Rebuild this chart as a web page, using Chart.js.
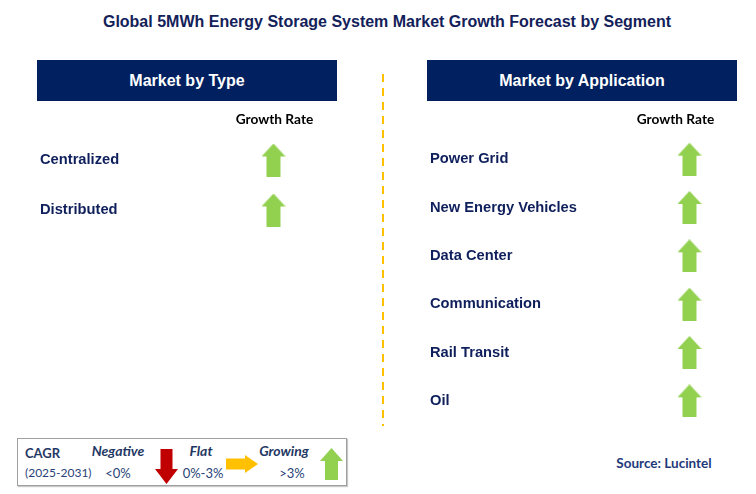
<!DOCTYPE html>
<html>
<head>
<meta charset="utf-8">
<script src="https://cdn.jsdelivr.net/npm/chart.js@4.4.0/dist/chart.umd.min.js"></script>
<style>
  body { margin: 0; width: 756px; height: 494px; background: #fff; position: relative; overflow: hidden; font-family: "Liberation Sans", Arial, sans-serif; }
  .abs { position: absolute; }
  .hdr { background: #002060; color: #fff; font-weight: bold; font-size: 16px; text-align: center; height: 41px; line-height: 41px; top: 60px; }
  .t { position: absolute; white-space: nowrap; transform: translate(-50%, -50%); }
  .tl { position: absolute; white-space: nowrap; transform: translate(0, -50%); }
  #divider { left: 382px; top: 74px; width: 2px; height: 352px; background: repeating-linear-gradient(to bottom, #ffc000 0 8px, transparent 8px 14px); }
  #legendBox { left: 17px; top: 438px; width: 328px; height: 46px; border: 1px solid #a0a0a0; box-shadow: 1px 1px 1px #c8c8c8; }
  .lg { font-family: Lato, "Open Sans", sans-serif; font-size: 13px; color: #2a3f78; }
  .lgb { font-family: Lato, "Open Sans", sans-serif; font-size: 14px; font-weight: bold; font-style: italic; color: #1f3864; }
</style>
</head>
<body>
<div class="t" style="left:387px;top:22px;font-size:16px;font-weight:bold;color:#13215a;">Global 5MWh Energy Storage System Market Growth Forecast by Segment</div>

<div class="abs hdr" style="left:37px;width:300px;">Market by Type</div>
<div class="abs hdr" style="left:427px;width:310px;">Market by Application</div>
<div class="abs" id="divider"></div>

<div class="abs" style="left:40px;top:105px;width:300px;height:130px;"><canvas id="typeChart"></canvas></div>
<div class="abs" style="left:430px;top:105px;width:306px;height:320px;"><canvas id="appChart"></canvas></div>

<div class="abs" id="legendBox"></div>
<div class="tl" style="left:25px;top:453px;font-family:Lato,sans-serif;font-size:13px;font-weight:bold;color:#1f3864;">CAGR</div>
<div class="tl lg" style="left:25px;top:472px;font-size:12px;">(2025-2031)</div>
<div class="t lgb" style="left:118px;top:450px;">Negative</div>
<div class="t lg" style="left:118px;top:473px;">&lt;0%</div>
<div class="t lgb" style="left:201px;top:450px;">Flat</div>
<div class="t lg" style="left:203px;top:473px;">0%-3%</div>
<div class="t lgb" style="left:284px;top:450px;">Growing</div>
<div class="t lg" style="left:292px;top:473px;">&gt;3%</div>

<div class="t" style="left:664px;top:463px;font-family:Lato,sans-serif;font-size:13.5px;font-weight:bold;color:#1e3a7b;">Source: Lucintel</div>

<script>
// segment data
const typeCategories = ['Centralized', 'Distributed'];
const typeGrowth = ['Growing', 'Growing'];
const appCategories = ['Power Grid', 'New Energy Vehicles', 'Data Center', 'Communication', 'Rail Transit', 'Oil'];
const appGrowth = ['Growing', 'Growing', 'Growing', 'Growing', 'Growing', 'Growing'];
const columnLabel = ['Growth Rate'];

const GREEN = '#92d050', RED = '#c00000', YELLOW = '#ffc000';

// block arrow drawn on a small canvas, used as point style
function makeArrow(dir, color, w, h, head, shaft) {
    const c = document.createElement('canvas');
    c.width = w; c.height = h;
    const g = c.getContext('2d');
    g.fillStyle = color;
    g.beginPath();
    let pts;
    if (dir === 'up' || dir === 'down') {
        pts = [[w/2, 0], [w, head], [(w+shaft)/2, head], [(w+shaft)/2, h], [(w-shaft)/2, h], [(w-shaft)/2, head], [0, head]];
        if (dir === 'down') pts = pts.map(p => [p[0], h - p[1]]);
    } else {
        pts = [[w, h/2], [w-head, 0], [w-head, (h-shaft)/2], [0, (h-shaft)/2], [0, (h+shaft)/2], [w-head, (h+shaft)/2], [w-head, h]];
    }
    pts.forEach((p, i) => i ? g.lineTo(p[0], p[1]) : g.moveTo(p[0], p[1]));
    g.closePath();
    g.fill();
    return c;
}

const arrowFor = {
    'Growing': makeArrow('up', GREEN, 24, 33, 13, 14),
    'Flat': makeArrow('right', YELLOW, 32, 18, 13, 11),
    'Negative': makeArrow('down', RED, 23, 34, 15, 12)
};

function placeLegendArrow(w, h, head, shaft, dir, color, left, top) {
    const c = makeArrow(dir, color, w, h, head, shaft);
    c.style.position = 'absolute';
    c.style.left = left + 'px';
    c.style.top = top + 'px';
    document.body.appendChild(c);
}
placeLegendArrow(23, 35, 15, 12, 'down', RED, 155, 449);
placeLegendArrow(32, 18, 13, 11, 'right', YELLOW, 226, 455);
placeLegendArrow(23, 32, 13, 13, 'up', GREEN, 320, 448);

function createSegmentChart(id, categories, growth, axisWidth, headerShift) {
    const ctx = document.getElementById(id).getContext('2d');
    return new Chart(ctx, {
        type: 'scatter',
        data: {
            datasets: [{
                data: categories.map(c => ({ x: columnLabel[0], y: c })),
                pointStyle: growth.map(g => arrowFor[g]),
                pointRadius: 12,
                clip: false
            }]
        },
        options: {
            responsive: true,
            maintainAspectRatio: false,
            animation: false,
            events: [],
            layout: { padding: 0, autoPadding: false },
            plugins: { legend: { display: false }, tooltip: { enabled: false }, title: { display: false } },
            scales: {
                x: {
                    type: 'category', labels: columnLabel, position: 'top', offset: true,
                    grid: { display: false, drawTicks: false }, border: { display: false },
                    ticks: { padding: 7, labelOffset: headerShift, color: '#000', font: { family: 'Lato', size: 13.7, weight: 'bold' } },
                    afterFit: s => { s.height = 30; s.paddingLeft = 0; s.paddingRight = 0; }
                },
                y: {
                    type: 'category', labels: categories, offset: true,
                    grid: { display: false, drawTicks: false }, border: { display: false },
                    ticks: { crossAlign: 'far', padding: 0, color: '#0e1f5b', font: { family: 'Liberation Sans', size: 14.7, weight: 'bold' } },
                    afterFit: s => { s.width = axisWidth; s.paddingTop = 0; s.paddingBottom = 0; }
                }
            }
        }
    });
}

createSegmentChart('typeChart', typeCategories, typeGrowth, 167, 1);
createSegmentChart('appChart', appCategories, appGrowth, 213, -14);
</script>
</body>
</html>
